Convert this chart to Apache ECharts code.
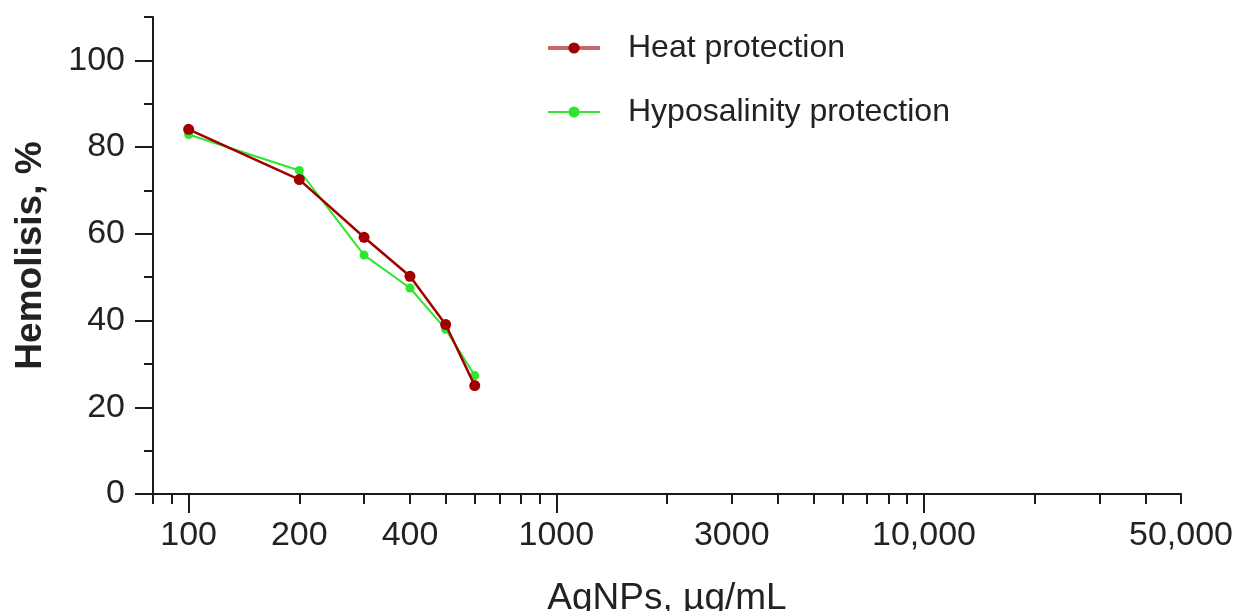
<!DOCTYPE html>
<html lang="en">

<head>
    <meta charset="UTF-8">
    <title>Hemolisis</title>
    <script src="https://cdn.jsdelivr.net/npm/echarts/dist/echarts.min.js"></script>
    <style>
        body { margin: 0; background: #fff; }
    </style>
</head>

<body>
    <div id="chart" style="width: 1236px; height: 611px;"></div>
    <script>
        // data
        const concentrations = [100, 200, 300, 400, 500, 600];
        const heatProtection = [84.1, 72.5, 59.2, 50.2, 39.1, 25.0];
        const hyposalinityProtection = [82.9, 74.6, 55.1, 47.5, 38.0, 27.3];

        const xLabelValues = [100, 200, 400, 1000, 3000, 10000, 50000];
        const xMajorTicks = [100, 1000, 10000];
        const xMinorTicks = [80, 90, 200, 300, 400, 500, 600, 700, 800, 900,
            2000, 3000, 4000, 5000, 6000, 7000, 8000, 9000, 20000, 30000, 40000, 50000];
        const yLabelValues = [0, 20, 40, 60, 80, 100];
        const yMinorTicks = [10, 30, 50, 70, 90, 110];

        const xMin = 80, xMax = 50000;
        const lg = v => Math.log10(v);

        function fmtX(v) {
            const n = Math.round(Math.pow(10, v));
            return n >= 10000 ? n.toLocaleString('en-US') : String(n);
        }

        const font = 'Liberation Sans, Arial, sans-serif';
        const axisColor = '#1a1a1a';

        const chart = echarts.init(document.getElementById('chart'));

        chart.setOption({
            animation: false,
            textStyle: { fontFamily: font },
            grid: { left: 153, right: 55, top: 17, bottom: 117, containLabel: false, outerBoundsMode: 'none' },
            legend: {
                orient: 'vertical',
                left: 541,
                top: 27,
                itemWidth: 52,
                itemHeight: 14,
                itemGap: 32,
                textStyle: { fontSize: 32, color: '#222', padding: [0, 0, 0, 23], fontFamily: font },
                data: [
                    { name: 'Heat protection', lineStyle: { width: 4, color: '#c46868' } },
                    { name: 'Hyposalinity protection' }
                ]
            },
            xAxis: [{
                type: 'value',
                min: lg(xMin),
                max: lg(xMax),
                name: 'AgNPs, µg/mL',
                nameLocation: 'middle',
                nameGap: 86,
                nameTextStyle: { fontSize: 37, color: '#222', fontFamily: font },
                axisLine: { lineStyle: { color: axisColor, width: 2 } },
                axisTick: { length: 19, lineStyle: { color: axisColor, width: 2 }, customValues: xMajorTicks.map(lg) },
                axisLabel: {
                    fontSize: 34, color: '#222', margin: 25,
                    customValues: xLabelValues.map(lg),
                    formatter: fmtX
                },
                splitLine: { show: false }
            }, {
                type: 'value',
                min: lg(xMin),
                max: lg(xMax),
                position: 'bottom',
                axisLine: { show: false },
                axisTick: { length: 10, lineStyle: { color: axisColor, width: 2 }, customValues: xMinorTicks.map(lg) },
                axisLabel: { show: false },
                splitLine: { show: false }
            }],
            yAxis: [{
                type: 'value',
                min: 0,
                max: 110,
                name: 'Hemolisis, %',
                nameLocation: 'middle',
                nameGap: 104,
                nameTextStyle: { fontSize: 37, fontWeight: 'bold', color: '#222', fontFamily: font },
                axisLine: { show: true, lineStyle: { color: axisColor, width: 2 } },
                axisTick: { show: true, length: 18, lineStyle: { color: axisColor, width: 2 }, customValues: yLabelValues },
                axisLabel: { fontSize: 34, color: '#222', margin: 28, customValues: yLabelValues },
                splitLine: { show: false }
            }, {
                type: 'value',
                min: 0,
                max: 110,
                position: 'left',
                axisLine: { show: false },
                axisTick: { show: true, length: 9, lineStyle: { color: axisColor, width: 2 }, customValues: yMinorTicks },
                axisLabel: { show: false },
                splitLine: { show: false }
            }],
            series: [{
                name: 'Heat protection',
                type: 'line',
                data: concentrations.map((c, i) => [lg(c), heatProtection[i]]),
                color: '#a10000',
                symbol: 'circle',
                symbolSize: 11,
                lineStyle: { width: 2.5, color: '#a10000' },
                itemStyle: { color: '#a10000' },
                z: 3
            }, {
                name: 'Hyposalinity protection',
                type: 'line',
                data: concentrations.map((c, i) => [lg(c), hyposalinityProtection[i]]),
                color: '#2ee62e',
                symbol: 'circle',
                symbolSize: 9,
                lineStyle: { width: 2, color: '#2ee62e' },
                itemStyle: { color: '#2ee62e' },
                z: 2
            }]
        });
    </script>
</body>

</html>
